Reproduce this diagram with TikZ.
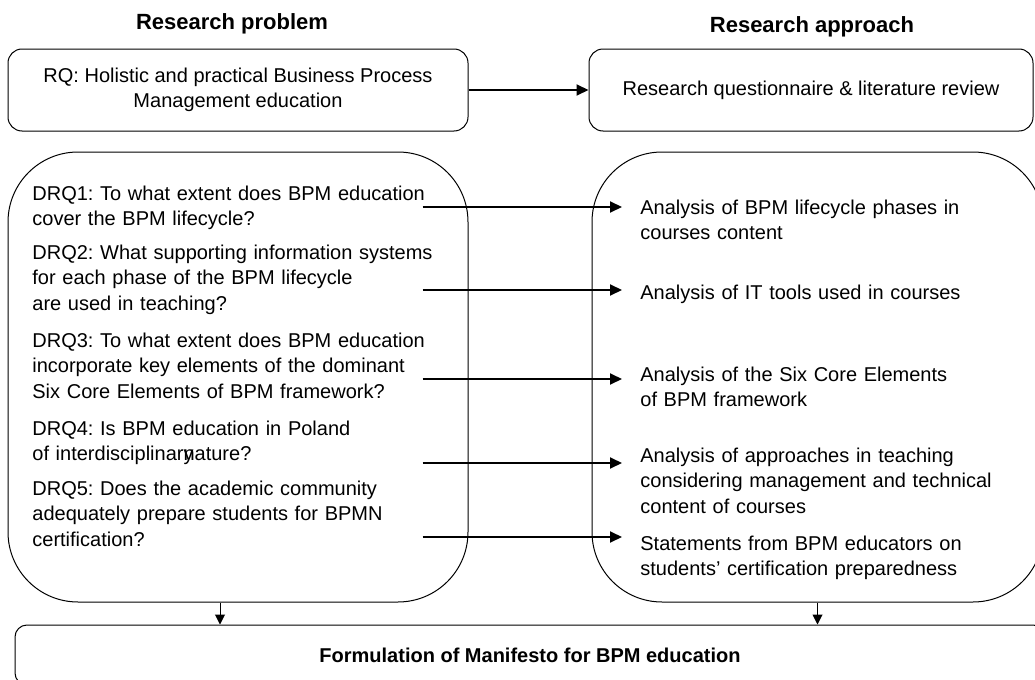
\documentclass[tikz,border=0pt]{standalone}
\usepackage{fontspec}
\setmainfont{Liberation Sans}
\usepackage{tikz}
\usetikzlibrary{arrows.meta,positioning}

\newcommand{\txtfont}{\fontsize{10}{12.75}\selectfont\frenchspacing}

\begin{document}
\begin{tikzpicture}[x=0.5pt,y=-0.5pt,
	head/.style={font=\fontsize{11}{13}\selectfont\bfseries},
	box/.style={draw,line width=0.5pt,rounded corners=7pt,align=center,font=\txtfont},
	bigbox/.style={draw,line width=0.5pt,rounded corners=35pt,minimum height=225pt},
	drq/.style={anchor=base west,inner sep=0pt,text width=215pt,align=left,font=\txtfont},
	ana/.style={anchor=base west,inner sep=0pt,text width=200pt,align=left,font=\txtfont},
	flow/.style={-{Triangle[length=6pt,width=5.5pt]},line width=1pt,shorten >=9pt},
	down/.style={-{Triangle[length=5pt,width=5pt]},line width=0.5pt}]

	\useasboundingbox (0,0) rectangle (1035,680);
	\clip (0,0) rectangle (1035,680);
	\fill[white] (0,0) rectangle (1035,680);

	% headings
	\node[head] (hprob) at (232,24) {Research problem};
	\node[head] (happr) at (812,27) {Research approach};

	% top row
	\node[box,minimum width=230pt,minimum height=41pt] (rq) at (238,90)
		{RQ: Holistic and practical Business Process\\Management education};
	\node[box,minimum width=222pt,minimum height=41pt] (rqa) at (811,90)
		{Research questionnaire \& literature review};
	\draw[flow,shorten >=0pt] (rq) -- (rqa);

	% big boxes
	\node[bigbox,minimum width=230pt] (lbox) at (238,377) {};
	\node[bigbox,minimum width=225.5pt] (rbox) at (817.5,377) {};

	% detailed questions
	\node[drq] (d1) at (32,200) {DRQ1: To what extent does BPM education\\cover the BPM lifecycle?};
	\node[drq] (d2) at (32,259) {DRQ2: What supporting information systems\\for each phase of the BPM lifecycle\\are used in teaching?};
	\node[drq] (d3) at (32,347) {DRQ3: To what extent does BPM education\\incorporate key elements of the dominant\\Six Core Elements of BPM framework?};
	\node[drq] (d4) at (32,435) {DRQ4: Is BPM education in Poland\\of interdisciplinar\rlap{y}nature?};
	\node[drq] (d5) at (32,495) {DRQ5: Does the academic community\\adequately prepare students for BPMN\\certification?};

	% analyses
	\node[ana] (a1) at (640,214) {Analysis of BPM lifecycle phases in\\courses content};
	\node[ana] (a2) at (640,299) {Analysis of IT tools used in courses};
	\node[ana] (a3) at (640,381) {Analysis of the Six Core Elements\\of BPM framework};
	\node[ana] (a4) at (640,462) {Analysis of approaches in teaching\\considering management and technical\\content of courses};
	\node[ana] (a5) at (640,550) {Statements from BPM educators on\\students' certification preparedness};

	\foreach \i/\y in {1/207,2/290,3/379,4/463,5/537} {
		\coordinate (h\i) at (0,\y);
		\draw[flow] ([xshift=-23pt]lbox.east |- h\i) -- (a\i.west |- h\i);
	}

	% result
	\node[box,minimum width=515pt,minimum height=30pt,rounded corners=6pt,font=\txtfont\bfseries] (fbox) at (530,655)
		{Formulation of Manifesto for BPM education};
	\draw[down] ([xshift=-9pt]lbox.south) -- ([xshift=-9pt]lbox.south |- fbox.north);
	\draw[down] (rbox.south) -- (rbox.south |- fbox.north);
\end{tikzpicture}
\end{document}
